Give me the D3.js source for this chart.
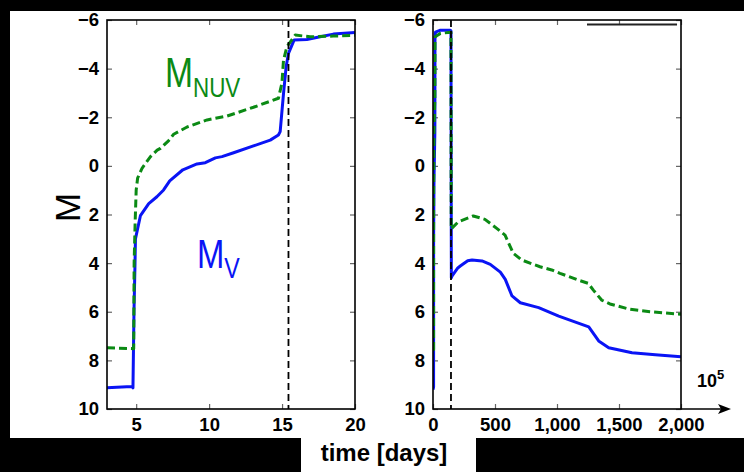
<!DOCTYPE html>
<html>
<head>
<meta charset="utf-8">
<script src="https://cdn.jsdelivr.net/npm/d3@7"></script>
<style>
  html, body { margin: 0; padding: 0; background: #000; }
  svg { display: block; }
</style>
</head>
<body>
<svg id="chart" width="744" height="472"></svg>
<script>
// ---------------- DATA ----------------
// Left panel (early times, days)
const leftVTime = [3, 4.7, 4.78, 4.85, 4.92, 4.95, 5.29, 5.86, 6.42, 6.88, 7.3, 8.2, 9.17, 9.74, 10.43, 10.88, 11.68, 13.04, 14.19, 14.75, 14.87, 15.10, 15.28, 15.44, 15.83, 16.7, 17.61, 18.52, 20];
const leftVMag  = [9.13, 9.07, 9.13, 6.0, 4.0, 3.0, 2.05, 1.55, 1.27, 0.99, 0.62, 0.16, -0.08, -0.13, -0.33, -0.38, -0.54, -0.82, -1.06, -1.27, -1.41, -2.98, -4.08, -4.63, -5.18, -5.2, -5.31, -5.42, -5.49];

const leftNUVTime = [3, 4.83, 4.86, 4.93, 5.0, 5.1, 5.4, 5.98, 6.44, 6.66, 7.23, 7.57, 7.91, 8.49, 9.86, 11.23, 13.04, 14.75, 14.99, 15.10, 15.33, 15.9, 16.92, 18.52, 20];
const leftNUVMag  = [7.48, 7.52, 4.0, 2.3, 1.0, 0.5, 0.1, -0.38, -0.65, -0.72, -1.04, -1.3, -1.41, -1.6, -1.89, -2.05, -2.41, -2.78, -3.4, -4.35, -4.9, -5.38, -5.31, -5.34, -5.37];

// Right panel (full light curve, days)
const rightVTime = [0, 4.7, 5, 8, 15, 16, 20, 60, 140, 145, 148, 153, 200, 220, 280, 315, 395, 462, 543, 583, 637, 704, 852, 1014, 1256, 1336, 1417, 1605, 1793, 2000];
const rightVMag  = [9.2, 9.1, 3.0, 0.6, -1.4, -5.2, -5.5, -5.58, -5.58, -5.55, 4.6, 4.53, 4.2, 4.12, 3.9, 3.87, 3.91, 4.05, 4.37, 4.67, 5.35, 5.63, 5.83, 6.18, 6.62, 7.2, 7.48, 7.69, 7.77, 7.85];

const rightNUVTime = [0, 4.8, 5, 8, 15, 16, 30, 60, 145, 147, 151, 204, 325, 419, 514, 581, 648, 715, 863, 957, 1024, 1185, 1252, 1293, 1360, 1427, 1589, 1750, 1965, 2000];
const rightNUVMag  = [7.55, 7.55, 1.0, -1.5, -2.8, -5.3, -5.35, -5.45, -5.5, 2.6, 2.57, 2.3, 2.06, 2.2, 2.57, 2.85, 3.6, 3.87, 4.15, 4.28, 4.42, 4.72, 4.83, 5.11, 5.52, 5.68, 5.9, 6.0, 6.09, 6.1];

// Vertical dashed markers
const leftMarker = 15.44;
const rightMarker = 145;
// Stray segment at top of right panel (time range, magnitude)
const topSegTime = [1242, 1968];
const topSegMag = -5.81;

// Ticks
const leftXTicks = [5, 10, 15, 20];
const rightXTicks = [0, 500, 1000, 1500, 2000];
const yTicks = [-6, -4, -2, 0, 2, 4, 6, 8, 10];
const yDomain = [-6, 10];
const leftXDomain = [3, 20];
const rightXDomain = [0, 2000];

// ---------------- LAYOUT ----------------
const svg = d3.select("#chart");
const BLUE = "#0a14f5", GREEN = "#0b8a14";

svg.append("rect").attr("x", 10).attr("y", 11).attr("width", 734).attr("height", 427).attr("fill", "#fff");
svg.append("rect").attr("x", 301).attr("y", 437).attr("width", 175).attr("height", 35).attr("fill", "#fff");

const plotTop = 20, plotBottom = 409;
const y = d3.scaleLinear().domain(yDomain).range([plotTop, plotBottom]);
const xL = d3.scaleLinear().domain(leftXDomain).range([107, 355]);
const xR = d3.scaleLinear().domain(rightXDomain).range([433, 681]);

function panel(x, xTicks, xFmt, series, marker, id) {
  const g = svg.append("g");
  const [x0, x1] = x.range();
  g.append("clipPath").attr("id", id).append("rect")
    .attr("x", x0).attr("y", plotTop).attr("width", x1 - x0).attr("height", plotBottom - plotTop);

  const tickCol = "#666";
  const axB = g.append("g").attr("transform", `translate(0,${plotBottom})`)
    .call(d3.axisBottom(x).tickValues(xTicks).tickSizeInner(-5).tickSizeOuter(0).tickPadding(9).tickFormat(xFmt));
  const axT = g.append("g").attr("transform", `translate(0,${plotTop})`)
    .call(d3.axisTop(x).tickValues(xTicks).tickSizeInner(-5).tickSizeOuter(0).tickFormat(""));
  const axL = g.append("g").attr("transform", `translate(${x0},0)`)
    .call(d3.axisLeft(y).tickValues(yTicks).tickSizeInner(-5).tickSizeOuter(0).tickPadding(8));
  const axR = g.append("g").attr("transform", `translate(${x1},0)`)
    .call(d3.axisRight(y).tickValues(yTicks).tickSizeInner(-5).tickSizeOuter(0).tickFormat(""));
  [axB, axT, axL, axR].forEach(a => {
    a.select(".domain").remove();
    a.selectAll(".tick line").attr("stroke", tickCol).attr("stroke-width", 1.2);
    a.selectAll("text").attr("font-family", "'Liberation Sans', Arial, sans-serif")
      .attr("font-weight", "bold").attr("font-size", 18.5).attr("fill", "#000");
  });
  axB.selectAll("text").attr("dy", "0.71em");

  const clip = g.append("g").attr("clip-path", `url(#${id})`);
  series.forEach(s => {
    const pts = s.t.map((t, i) => [t, s.m[i]]);
    clip.append("path").datum(pts)
      .attr("d", d3.line().x(d => x(d[0])).y(d => y(d[1])))
      .attr("fill", "none").attr("stroke", s.color).attr("stroke-width", 3)
      .attr("stroke-linejoin", "round")
      .attr("stroke-dasharray", s.dash || null);
  });
  clip.append("line")
    .attr("x1", x(marker)).attr("x2", x(marker)).attr("y1", plotTop).attr("y2", plotBottom)
    .attr("stroke", "#000").attr("stroke-width", 1.8).attr("stroke-dasharray", "7,4");

  g.append("rect").attr("x", x0).attr("y", plotTop).attr("width", x1 - x0).attr("height", plotBottom - plotTop)
    .attr("fill", "none").attr("stroke", "#000").attr("stroke-width", 1.6);
  return g;
}

panel(xL, leftXTicks, d3.format("d"), [
  { t: leftVTime, m: leftVMag, color: BLUE },
  { t: leftNUVTime, m: leftNUVMag, color: GREEN, dash: "8,4" }
], leftMarker, "clipL");

const gR = panel(xR, rightXTicks, d3.format(","), [
  { t: rightVTime, m: rightVMag, color: BLUE },
  { t: rightNUVTime, m: rightNUVMag, color: GREEN, dash: "8,4" }
], rightMarker, "clipR");

gR.append("line")
  .attr("x1", xR(topSegTime[0])).attr("x2", xR(topSegTime[1]))
  .attr("y1", y(topSegMag)).attr("y2", y(topSegMag))
  .attr("stroke", "#222").attr("stroke-width", 2);

const ax1 = xR.range()[1];
svg.append("line").attr("x1", ax1).attr("x2", ax1 + 44).attr("y1", plotBottom).attr("y2", plotBottom)
  .attr("stroke", "#000").attr("stroke-width", 1.6);
svg.append("path")
  .attr("d", `M${ax1 + 50},${plotBottom} L${ax1 + 37},${plotBottom - 5} L${ax1 + 40},${plotBottom} L${ax1 + 37},${plotBottom + 5} Z`)
  .attr("fill", "#000");

const tenT = svg.append("text").attr("x", 697).attr("y", 387)
  .attr("font-family", "'Liberation Sans', Arial, sans-serif").attr("font-weight", "bold")
  .attr("font-size", 18).attr("fill", "#000");
tenT.append("tspan").text("10");
tenT.append("tspan").attr("dy", -8).attr("font-size", 13).text("5");

svg.append("text")
  .attr("transform", "translate(80,207.5) rotate(-90)")
  .attr("text-anchor", "middle")
  .attr("font-family", "'Liberation Sans', Arial, sans-serif")
  .attr("font-size", 35).attr("fill", "#000").text("M");

svg.append("text").attr("x", 384).attr("y", 461).attr("text-anchor", "middle")
  .attr("font-family", "'Liberation Sans', Arial, sans-serif").attr("font-weight", "bold")
  .attr("font-size", 24).attr("fill", "#000").text("time [days]");

// series annotations (condensed sans)
const annFont = "'Liberation Sans', Arial, sans-serif";
const nuv = svg.append("text").attr("transform", "translate(165,87) scale(0.8,1)")
  .attr("font-family", annFont).attr("font-size", 42).attr("fill", GREEN);
nuv.append("tspan").text("M");
nuv.append("tspan").attr("dy", 10).attr("font-size", 28).text("NUV");

const mv = svg.append("text").attr("transform", "translate(197,268) scale(0.8,1)")
  .attr("font-family", annFont).attr("font-size", 41).attr("fill", BLUE);
mv.append("tspan").text("M");
mv.append("tspan").attr("dy", 10).attr("font-size", 29).text("V");
</script>
</body>
</html>
